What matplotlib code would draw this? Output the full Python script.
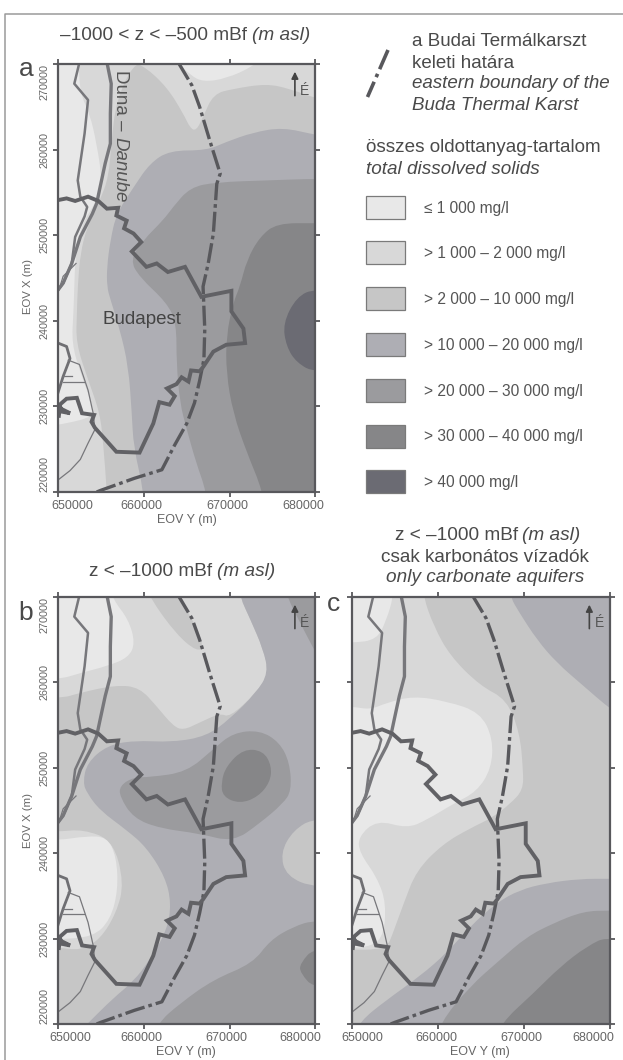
import numpy as np
import matplotlib
matplotlib.use('Agg')
from matplotlib import pyplot as plt
from matplotlib.path import Path
from matplotlib.patches import PathPatch, Rectangle
from matplotlib.transforms import ScaledTranslation

plt.rcParams['font.family'] = ['Liberation Sans', 'DejaVu Sans']

# all map coordinates are EOV km (Y, X)
x_ticks = [650, 660, 670, 680]
y_ticks = [220, 230, 240, 250, 260, 270]
x_tick_labels = ['650000', '660000', '670000', '680000']
y_tick_labels = ['220000', '230000', '240000', '250000', '260000', '270000']

tds_labels = ['≤ 1 000 mg/l', '> 1 000 – 2 000 mg/l', '> 2 000 – 10 000 mg/l',
              '> 10 000 – 20 000 mg/l', '> 20 000 – 30 000 mg/l',
              '> 30 000 – 40 000 mg/l', '> 40 000 mg/l']
tds_colors = ['#e8e8e8', '#d8d8d8', '#c6c6c6', '#aeaeb4', '#9b9b9e', '#868688', '#6b6b73']
L1, L2, L3, L4, L5, L6, L7 = tds_colors

# lines common to the three maps
karst = [(664, 270.2), (665.6, 267.5), (666.5, 265), (667.7, 261), (668.9, 257.2), (668.5, 256),
         (668.1, 250.2), (667.5, 246.7), (666.9, 244), (667.1, 239), (667, 235.5), (666.5, 233),
         (665.9, 230.4), (665, 228), (663.6, 225.5), (662.1, 222.6), (658.9, 221.6), (655, 220.2),
         (654.5, 220)]
city = [(649.5, 254), (651, 254.3), (652, 254), (653.5, 254.5), (654.7, 254), (655.7, 253.1),
        (657, 253.2), (656.8, 252.3), (658, 251.7), (657.7, 250.8), (658.8, 250.2), (659.7, 249.2),
        (658.6, 248.1), (660.3, 246.3), (661.5, 246.7), (662.8, 245.7), (664.8, 246.3), (666.7, 242.8),
        (670.2, 243.5), (670.2, 241.1), (671.6, 239.1), (671.8, 237.4), (669.6, 237.2), (668.1, 236.4),
        (666.9, 234.6), (666.5, 234.1), (665.5, 234.2), (665.2, 232.9), (664.4, 233.4), (663.8, 232.6),
        (662.7, 232.1), (663.6, 231.2), (663, 230.2), (661.8, 230.5), (661.1, 228), (659.5, 224.6),
        (656.8, 224.7), (654.3, 227.5), (653.9, 228.2), (654.2, 229), (652.8, 229.2), (652.2, 231),
        (651, 230.9), (650.2, 230.2), (650.4, 229.4), (651.4, 229.2), (650.2, 229.8), (650.1, 228.9)]
danube = [(655.7, 270.2), (656.2, 267.7), (656.1, 264.2), (656.1, 260.7), (655.5, 258.4), (654.9, 255.6),
          (654.5, 253.7), (654, 252.5), (652.6, 249.8), (651.6, 246.7), (650.6, 244.4), (650, 243.6)]
danube_low = [(650, 237.4), (651, 237), (651.4, 235.6), (650.6, 233.5), (650, 231.6)]
side_arm = [(652.5, 270.2), (651.9, 267.7), (653.5, 265.8), (653.1, 261.9), (652.3, 256.4), (652.6, 254.5),
            (653.4, 253.3), (653.1, 252.2), (652, 249.8), (651.6, 246.7), (650.6, 244.4), (650, 243.6)]
thin_river = [(651.2, 235.4), (652.5, 234.9), (653.5, 231.9), (654.1, 229.2), (654.3, 227.3), (653.5, 225.7),
              (652.6, 223.8), (651.4, 222.5), (650, 221.4)]
thin_arm = [(652.1, 246.7), (650.6, 245.2), (650.1, 243.6)]
dash1 = [(650.6, 233.5), (651.6, 233.5)]
dash2 = [(650.6, 232.9), (653, 232.9)]

# panel a, band boundaries
a_l2 = [(652.4, 275), (652.4, 270), (652.6, 266.5), (653.7, 264.2), (654.5, 260.7), (655.1, 256.8), (654.8, 254.5),
        (652.6, 251), (652, 247), (651.9, 244), (651.8, 240.9), (651.6, 237.4), (652.6, 233.9), (654.1, 230),
        (654.1, 228.8), (651, 228), (648.7, 227.7), (620, 227.7), (620, 190), (710, 190), (710, 300), (652.4, 300)]
a_cap = [(663, 271), (665.4, 268.7), (666.9, 267.9), (669.6, 268.3), (672.7, 269.7), (674, 271), (674, 280), (663, 280)]
a_l3 = [(684, 265), (680, 266), (677, 267.1), (674.3, 267.7), (670.4, 267.1), (668.1, 266.5), (666.9, 263.8),
        (666.1, 262.2), (665.4, 262.5), (664.6, 264.2), (662.7, 267.3), (660, 269.8), (658.8, 270), (656.8, 265.8),
        (656.2, 260.7), (655.9, 256.8), (654.9, 254.1), (653.4, 251), (652.6, 247.9), (652.3, 244), (652.2, 240.9),
        (652.1, 237.4), (653.5, 233.1), (654.9, 229.2), (655.3, 225.3), (655.7, 220), (655.9, 215), (655.9, 190),
        (710, 190), (710, 265)]
a_l4 = [(690, 260), (680, 261.7), (676.2, 262.6), (672.7, 262), (669.6, 260.9), (667.3, 259.9), (663, 259.9),
        (660.7, 258.4), (658.8, 255.6), (656.8, 252.5), (656.1, 249.4), (655.7, 246.3), (655.7, 244), (656.1, 242.5),
        (657.2, 239), (658.2, 234.7), (658.6, 229.2), (658.8, 225.3), (660, 220), (660.1, 216), (660.1, 190),
        (710, 190), (710, 260)]
a_l5 = [(690, 256.6), (680, 256.6), (674.3, 256.4), (668.5, 256.2), (665.4, 255.6), (663.4, 253.3), (662.3, 251.8),
        (659.9, 249.4), (658.4, 247.1), (659.5, 245.1), (662.7, 242.1), (663.8, 239.7), (663.8, 235.1), (664.2, 230.4),
        (665, 227.3), (666.1, 223.4), (667.3, 220), (667.6, 216), (667.6, 190), (710, 190), (710, 256.6)]
a_l6 = [(690, 251.4), (680, 251.4), (675.5, 251.4), (673.5, 249.8), (672, 247.1), (671.2, 244), (670.4, 242.1),
        (669.6, 238.2), (669.6, 233.9), (670.4, 229.2), (672, 224.6), (673.9, 220), (674.3, 216), (674.3, 190),
        (710, 190), (710, 251.4)]
a_l7 = [(690, 243.8), (680, 243.8), (677.8, 242.8), (676.2, 239.7), (676.6, 237), (677.8, 235.1), (680, 233.9),
        (690, 233.9), (700, 233.9), (700, 243.8)]

# panel b, band boundaries
b_l2 = [(620, 258), (650, 258), (652.6, 258.8), (656.8, 259.7), (659.5, 259.4), (661.5, 257.2), (663.4, 254.9),
        (664.6, 254.4), (666.5, 255.3), (668.9, 256.4), (670, 255.9), (673.1, 258.8), (674.6, 261.1), (673.9, 263.9),
        (672.4, 267.4), (671.2, 270), (671, 272), (671, 300), (620, 300)]
b_wedge = [(660, 272), (660.7, 269.9), (663.8, 265.6), (666.2, 263.6), (667, 264.2), (666, 266.7), (664.2, 269.9),
           (664.2, 272)]
b_top = [(655.8, 272), (656.4, 269.7), (658.2, 267.4), (659, 264.6), (658.2, 262.9), (655.7, 261.9), (652.6, 261.1),
         (650, 260.3), (640, 259.9), (640, 290), (655.8, 290)]
b_l2_blob = [(640, 242.5), (650, 242.5), (652.9, 242.8), (656.4, 241.5), (657.7, 236.5), (656.8, 233), (654.9, 229.9),
             (652.6, 228.6), (650, 229), (640, 229)]
b_l1_blob = [(645, 241.5), (650, 241.5), (653.3, 242), (655.7, 241.9), (656.8, 239.6), (657, 235.7), (656.1, 232.2),
             (654.1, 230.2), (650, 229.9), (645, 229.9)]
b_l4 = [(671, 272), (671.2, 270), (672.4, 267.4), (673.9, 263.9), (674.5, 261.1), (673.1, 258.8), (670, 255.7),
        (667.3, 253.7), (663.4, 253), (658.8, 253.2), (655.7, 252.6), (653.4, 250.6), (652.9, 248.3), (653.4, 247),
        (654.9, 245), (658, 242.7), (660.3, 240.7), (662.5, 237.2), (663.2, 234.1), (662.7, 231), (660.7, 227.5),
        (658.8, 225), (656.4, 223), (653.4, 220), (652.4, 219), (652.4, 190), (710, 190), (710, 300), (671, 300)]
b_l5_top = [(676.2, 272), (676.7, 270), (678.2, 267), (680, 263.5), (682, 260), (700, 260), (700, 300), (676.2, 300)]
b_l5_low = [(690, 232.2), (680, 232.2), (677.4, 231.4), (674.7, 229.8), (672.7, 227.1), (668.1, 225.2), (664.2, 222.4),
            (661.5, 220), (660.9, 217), (660.9, 190), (710, 190), (710, 232.2)]
b_l5_mid = [(657.2, 246.6), (658.8, 244.1), (661.9, 242.9), (666.5, 242.3), (670.4, 241.3), (673.5, 243.5),
            (676.2, 245.8), (677.2, 247.3), (677, 250.6), (675.8, 253), (673.5, 254.4), (670.4, 254.1), (668.1, 252.2),
            (665, 249.5), (660.7, 248.9), (658.8, 248.9), (657.2, 247.9)]
b_l6_mid = [(674.9, 250.2), (673.9, 252), (671.6, 252.2), (669.6, 250.2), (669, 248.3), (669.2, 246.6), (671.2, 245.8),
            (673.3, 246.6), (674.7, 248.3)]
b_l3_right = [(690, 244.2), (680, 244.2), (677.4, 242.7), (675.9, 240), (676.6, 237.3), (680, 235.9), (690, 235.9),
              (700, 235.9), (700, 244.2)]
b_l6_right = [(690, 229.1), (680, 229.1), (678.2, 227.1), (678.2, 226), (680, 224), (690, 224), (700, 224), (700, 229.1)]

# panel c, band boundaries
c_top = [(654.8, 272), (654.8, 270), (654, 267.3), (652.9, 265), (650, 264.6), (640, 264.6), (640, 290), (654.8, 290)]
c_l1 = [(645, 257.2), (650, 257.2), (652.1, 256.8), (654, 257.6), (657.1, 258.4), (661, 257.8), (664.9, 256.5),
        (666.4, 253.4), (666.2, 249.9), (664.5, 247.2), (661.8, 245.8), (658.7, 243.9), (656.4, 242.9), (652.9, 243.9),
        (650.7, 241.9), (650.9, 240), (652.9, 237.2), (654, 234.1), (653.6, 229.8), (651.3, 228.9), (650, 229),
        (645, 229)]
c_l3 = [(658.3, 272), (658.3, 270), (659.5, 266.6), (661.4, 263.1), (664.9, 259.6), (668, 258), (669.5, 254.1),
        (669.9, 249.8), (669.9, 247.4), (668.4, 245.8), (666.4, 244.2), (663.7, 242.9), (660.6, 241.1), (657.5, 238),
        (656, 234.1), (654.6, 230.2), (654.2, 229.3), (652.9, 228.7), (650, 228.7), (620, 228.7), (620, 190), (710, 190),
        (710, 300), (658.3, 300)]
c_corner = [(668.2, 272), (668.4, 270), (669.5, 268.1), (671.5, 265), (673.8, 262.3), (676.9, 259.6), (680, 256.9),
            (684, 254), (700, 254), (700, 300), (668.2, 300)]
c_l4 = [(690, 237), (680, 237), (676.5, 237), (672.6, 236.5), (669.5, 235.7), (666.8, 234.2), (663.7, 231.4),
        (661, 228.3), (657.9, 225.6), (654, 222.8), (650.9, 220.3), (650, 218), (650, 190), (710, 190), (710, 237)]
c_l5 = [(690, 233.3), (680, 233.3), (676.9, 233.2), (673.4, 231.8), (670.3, 230.2), (667.2, 227.5), (663.7, 224.4),
        (660.2, 220.1), (659.6, 217), (659.6, 190), (710, 190), (710, 233.3)]
c_l6 = [(690, 228), (680, 230.4), (677.3, 229.1), (674.2, 226.7), (671.1, 223.6), (667.2, 220), (666.4, 217),
        (666.4, 190), (710, 190), (710, 228)]

TEXT = '#4a4a4a'
LINE = '#58585c'
fig = plt.figure(figsize=(6.23, 10.6), dpi=100)
page = fig.add_axes([0, 0, 1, 1], zorder=5)
page.set_xlim(0, 623)
page.set_ylim(1060, 0)
page.axis('off')


def smooth(pts):
    # quadratic spline through the midpoints of the read vertices
    pts = np.array(pts) * 1000.0
    mids = (pts + np.roll(pts, -1, axis=0)) / 2
    verts = [mids[-1]]
    codes = [Path.MOVETO]
    for p, m in zip(pts, mids):
        verts += [p, m]
        codes += [Path.CURVE3, Path.CURVE3]
    return Path(verts, codes)


def line(ax, pts, **kw):
    pts = np.array(pts) * 1000.0
    ax.plot(pts[:, 0], pts[:, 1], **kw)


def panel(left, right, top, bottom, base, bands, xoff, ylabels):
    ax = fig.add_axes([left / 623, 1 - bottom / 1060, (right - left) / 623, (bottom - top) / 1060])
    ax.set_facecolor(base)
    for pts, col in bands:
        ax.add_patch(PathPatch(smooth(pts), facecolor=col, edgecolor='none'))
    line(ax, danube, color='#77777b', lw=2.4)
    line(ax, danube_low, color='#6f6f73', lw=2.0)
    line(ax, side_arm, color='#77777b', lw=1.8)
    for pts in (thin_river, thin_arm, dash1, dash2):
        line(ax, pts, color='#77777b', lw=0.9)
    line(ax, karst, color=LINE, lw=2.4, ls=(0, (6, 1.2, 1.1, 1.2)))
    line(ax, city, color='#616165', lw=2.8, solid_joinstyle='miter')
    ax.annotate('', xy=(677600, 269100), xytext=(677600, 266300),
                arrowprops=dict(arrowstyle='-|>', color='#444444', lw=1.2, mutation_scale=10, shrinkA=0, shrinkB=0))
    ax.text(678750, 266900, 'É', ha='center', va='center', fontsize=10, color='#555555')
    ax.set_xlim(650000, 680000)
    ax.set_ylim(220000, 270000)
    ax.set_xticks(np.array(x_ticks) * 1000, x_tick_labels, fontsize=9, color='#666666')
    if ylabels:
        ax.set_yticks(np.array(y_ticks) * 1000, y_tick_labels, fontsize=7.8, color='#666666',
                      rotation=90, va='center')
        labs = ax.get_yticklabels()
        labs[0].set_va('bottom')
        labs[-1].set_va('top')
    else:
        ax.set_yticks(np.array(y_ticks) * 1000, [])
    ax.tick_params(axis='both', which='major', top=True, right=True, length=3.5, width=1.3, color=LINE, pad=2.5)
    for lab, dx in zip(ax.get_xticklabels(), xoff):
        lab.set_transform(lab.get_transform() + ScaledTranslation(dx / 100, 0, fig.dpi_scale_trans))
    for s in ax.spines.values():
        s.set_color(LINE)
        s.set_linewidth(1.6)
    return ax


ax_a = panel(58, 315.5, 64, 492, L1,
             [(a_l2, L2), (a_cap, L1), (a_l3, L3), (a_l4, L4), (a_l5, L5), (a_l6, L6), (a_l7, L7)],
             [14, -2, -2, -12], True)
ax_b = panel(58, 315.5, 597, 1024, L3,
             [(b_l2, L2), (b_wedge, L3), (b_top, L1), (b_l2_blob, L2), (b_l1_blob, L1), (b_l4, L4), (b_l5_top, L5),
              (b_l5_low, L5), (b_l5_mid, L5), (b_l6_mid, L6), (b_l3_right, L3), (b_l6_right, L6)],
             [12, -2, -3, -15], True)
ax_c = panel(352, 610, 597, 1024, L2,
             [(c_top, L1), (c_l1, L1), (c_l3, L3), (c_corner, L4), (c_l4, L4), (c_l5, L5), (c_l6, L6)],
             [10, -2, -3, -17], False)

# frame round the whole figure
page.plot([5, 5, 623], [1060, 13.5, 13.5], color='#9a9a9a', lw=1.1)


def txt(x, y, s, size=13.5, **kw):
    kw.setdefault('color', TEXT)
    kw.setdefault('va', 'center')
    page.text(x, y, s, fontsize=size, **kw)


# titles
txt(247, 35, '–1000 < z < –500 mBf', ha='right', size=13.7)
txt(252, 35, '(m asl)', ha='left', size=13.7, style='italic')
txt(212, 571, 'z < –1000 mBf', ha='right', size=13.7)
txt(217, 571, '(m asl)', ha='left', size=13.7, style='italic')
txt(518, 536, 'z < –1000 mBf', ha='right', size=13.7)
txt(522, 536, '(m asl)', ha='left', size=13.7, style='italic')
txt(485, 557, 'csak karbonátos vízadók', ha='center', size=13.7)
txt(485, 578, 'only carbonate aquifers', ha='center', size=13.7, style='italic')

# panel letters
txt(26, 69, 'a', ha='center', size=19)
txt(26, 613, 'b', ha='center', size=19)
txt(334, 604, 'c', ha='center', size=19)

# place names
txt(142, 320, 'Budapest', ha='center', color='#444444')
txt(120, 70, 'Duna –', rotation=-90, ha='center', va='top', color='#555555')
txt(120, 137, 'Danube', rotation=-90, ha='center', va='top', style='italic', color='#555555')

# axis names
for xlab, xc, yc in (('EOV Y (m)', 187, 520), ('EOV Y (m)', 186, 1052), ('EOV Y (m)', 480, 1052)):
    txt(xc, yc, xlab, ha='center', size=9, color='#666666')
for yc in (287, 820):
    txt(28, yc, 'EOV X (m)', ha='center', rotation=90, size=8.2, color='#666666')

# legend
page.plot([388, 367.5], [50, 97], color=LINE, lw=2.6, ls=(0, (5.8, 1.4, 1, 1.4)))
txt(412, 42, 'a Budai Termálkarszt', ha='left')
txt(412, 63, 'keleti határa', ha='left')
txt(412, 84, 'eastern boundary of the', ha='left', style='italic')
txt(412, 105, 'Buda Thermal Karst', ha='left', style='italic')
txt(366, 148, 'összes oldottanyag-tartalom', ha='left', size=13.6)
txt(366, 170, 'total dissolved solids', ha='left', size=13.6, style='italic')
for i, (lab, col) in enumerate(zip(tds_labels, tds_colors)):
    yc = 207 + i * 45.8
    page.add_patch(Rectangle((366, yc - 11.5), 39, 23, facecolor=col, edgecolor='#7a7a7a', lw=0.9))
    txt(424, yc + 1, lab, ha='left', size=11.2, color='#555555')

fig.savefig('out.png', dpi=100)
